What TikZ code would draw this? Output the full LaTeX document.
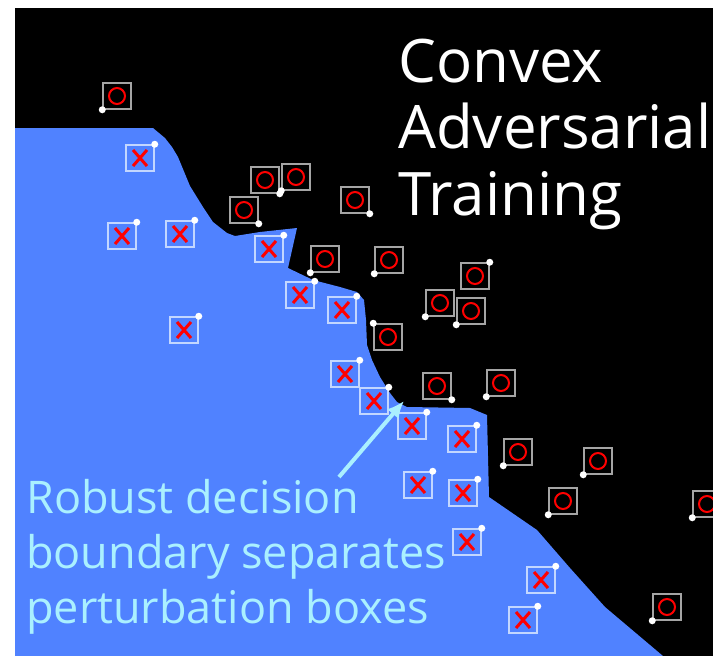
\documentclass[tikz,border=0pt]{standalone}
\usepackage{fontspec}
\setmainfont{Open Sans}
\usepackage{tikz}
\usetikzlibrary{arrows.meta}
\definecolor{bgblue}{RGB}{80,130,255}
\definecolor{lblcyan}{RGB}{170,240,255}
\definecolor{ogray}{RGB}{165,165,165}
\definecolor{xgray}{RGB}{195,215,255}

\begin{document}
\begin{tikzpicture}
[x=1pt, y=-1pt, > = {Latex[length=17pt, width=15pt]},
box/.style ={rectangle, line width=1.5pt, inner sep=0pt,
minimum width=28pt, minimum height=26pt},
obox/.style ={box, draw=ogray, path picture={
\draw[red, line width=2pt] (path picture bounding box.center) circle (8pt);}},
xbox/.style ={box, draw=xgray, path picture={
\draw[red, line width=3pt]
([shift={(-7pt,-8pt)}]path picture bounding box.center) -- ([shift={(7pt,8pt)}]path picture bounding box.center)
([shift={(-7pt,8pt)}]path picture bounding box.center) -- ([shift={(7pt,-8pt)}]path picture bounding box.center);}},
pt/.style ={fill=white},
]
\useasboundingbox (0,0) rectangle (713,656);
\fill[white] (0,0) rectangle (713,656);
\fill[black] (15,8) rectangle (713,656);

% blue region
\fill[bgblue] (15,128) -- (153,128) -- (165,138) -- (172,147) -- (178,157) -- (190,186)
 -- (203,207) -- (213,222) -- (227,233) -- (235,236) -- (260,232) -- (297,228)
 -- (288,268) -- (313,280) -- (340,287) -- (357,292) -- (364,300) -- (366,320)
 -- (367,345) -- (372,360) -- (380,377) -- (390,393) -- (397,402) -- (407,407)
 -- (470,408) -- (487,415) -- (489,497) -- (537,530) -- (570,568) -- (605,607)
 -- (663,656) -- (15,656) -- cycle;

% circles
\node[obox] (o1) at (117,96) {};
\node[obox] (o2) at (265,180) {};
\node[obox] (o3) at (296,177) {};
\node[obox] (o4) at (244,210) {};
\node[obox] (o5) at (355,200) {};
\node[obox] (o6) at (325,259) {};
\node[obox] (o7) at (389,260) {};
\node[obox] (o8) at (475,276) {};
\node[obox] (o9) at (440,303) {};
\node[obox] (o10) at (471,311) {};
\node[obox] (o11) at (388,337) {};
\node[obox] (o12) at (437,386) {};
\node[obox] (o13) at (501,383) {};
\node[obox] (o14) at (518,452) {};
\node[obox] (o15) at (598,461) {};
\node[obox] (o16) at (563,501) {};
\node[obox] (o17) at (707,504) {};
\node[obox] (o18) at (667,607) {};

% crosses
\node[xbox] (x1) at (140,158) {};
\node[xbox] (x2) at (122,236) {};
\node[xbox] (x3) at (180,234) {};
\node[xbox] (x4) at (269,249) {};
\node[xbox] (x5) at (300,295) {};
\node[xbox] (x6) at (342,310) {};
\node[xbox] (x7) at (184,330) {};
\node[xbox] (x8) at (345,374) {};
\node[xbox] (x9) at (374,401) {};
\node[xbox] (x10) at (412,426) {};
\node[xbox] (x11) at (462,439) {};
\node[xbox] (x12) at (418,485) {};
\node[xbox] (x13) at (463,493) {};
\node[xbox] (x14) at (467,542) {};
\node[xbox] (x15) at (541,580) {};
\node[xbox] (x16) at (523,620) {};

% data points
\foreach \n/\c in {o1/south west, o2/south east, o3/south west, o4/south east,
 o5/south east, o6/south west, o7/south west, o8/north east, o9/south west,
 o10/south west, o11/north west, o12/south east, o13/south west, o14/south west,
 o15/south west, o16/south west, o17/south west, o18/south west}
 \fill[pt] (\n.\c) circle (3.5pt);
\foreach \n in {1,...,16}
 \fill[pt] (x\n.north east) circle (3.5pt);

% labels
\node[anchor=base west, inner sep=0pt, align=left, text=white,
 font=\fontsize{60}{66.5}\selectfont] (title) at (398,215)
 {Convex\\Adversarial\\Training};
\node[anchor=base west, inner sep=0pt, align=left, text=lblcyan,
 font=\fontsize{45}{55}\selectfont] (note) at (26,623)
 {Robust decision\\boundary separates\\perturbation boxes};

\coordinate (tail) at (339,477);
\coordinate (tip) at (404,401);
\draw[->, lblcyan, line width=4pt] (tail) -- (tip);
\end{tikzpicture}
\end{document}
